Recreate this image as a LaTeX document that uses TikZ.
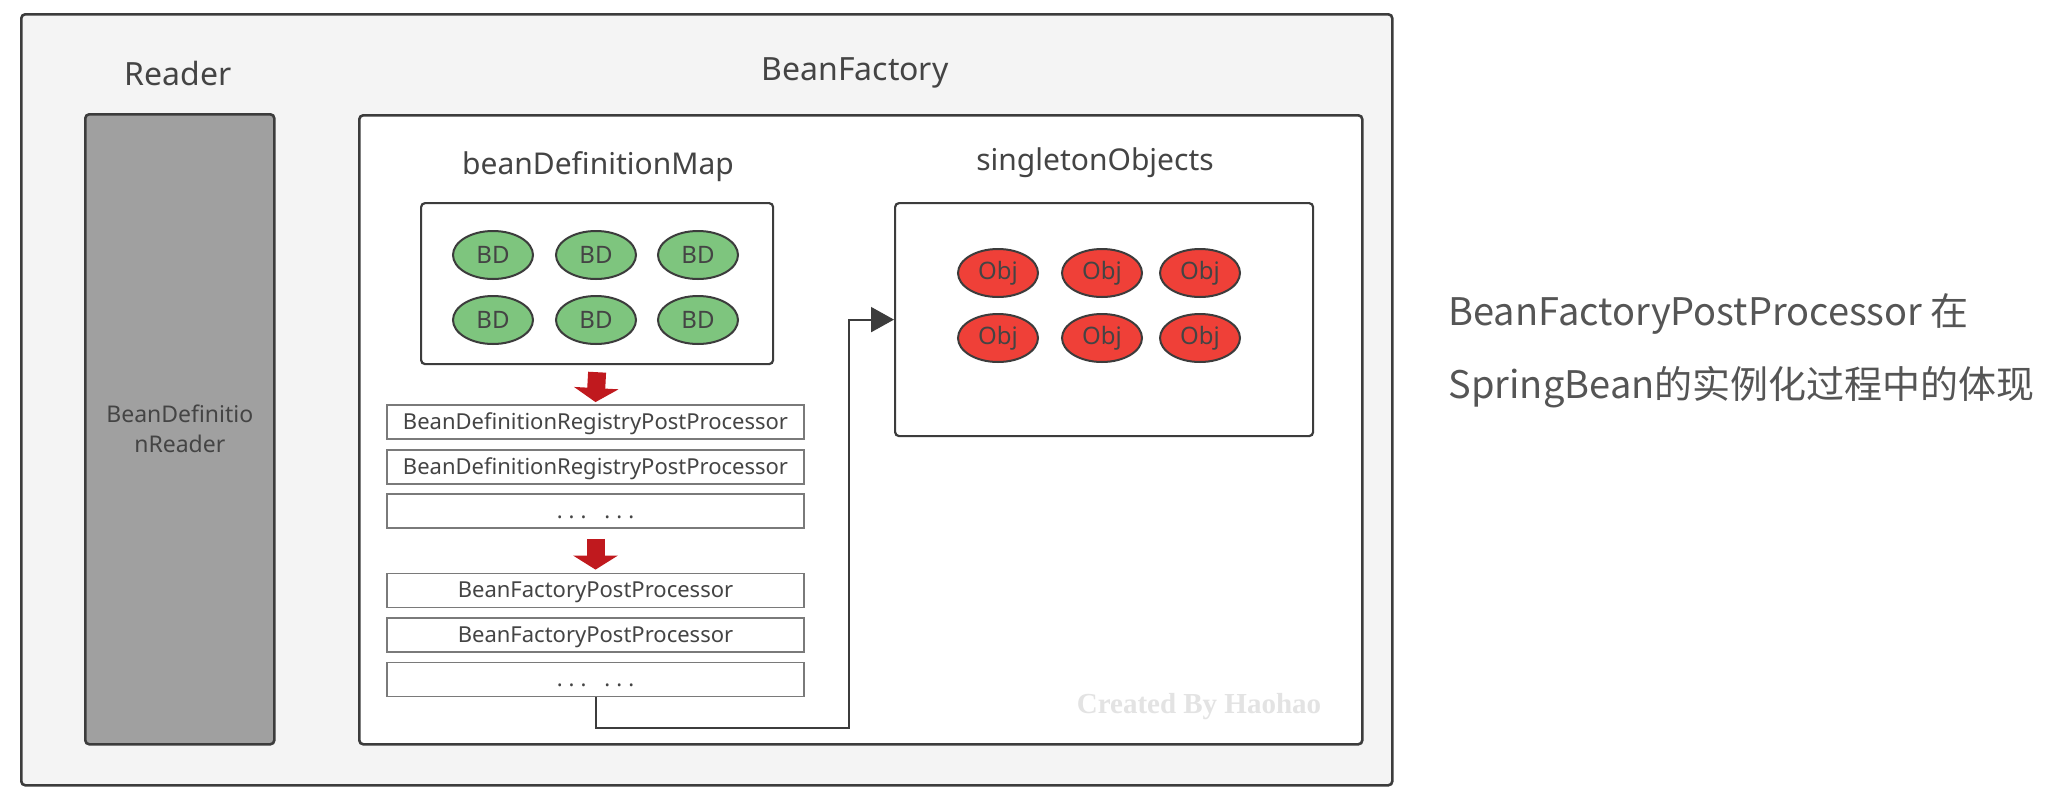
\documentclass[tikz,border=0pt]{standalone}
\usepackage{fontspec}
\setmainfont{Noto Sans}
\newfontfamily\cjk{Noto Sans CJK SC}
\newfontfamily\wmfont{Liberation Serif}
\usetikzlibrary{shapes.geometric,arrows.meta,calc}
\tikzset{>=Latex}

\definecolor{panelgray}{HTML}{F4F4F4}
\definecolor{readergray}{HTML}{A0A0A0}
\definecolor{framegray}{HTML}{3C3C3C}
\definecolor{procgray}{HTML}{7A7A7A}
\definecolor{textgray}{HTML}{444444}
\definecolor{notegray}{HTML}{555555}
\definecolor{bdgreen}{HTML}{7EC57E}
\definecolor{objred}{HTML}{EF4038}
\definecolor{arrowred}{HTML}{C0191E}

\tikzset{
  frame/.style={draw=framegray,line width=2.6pt,rounded corners=4pt,
    anchor=north west,inner sep=0pt},
  title/.style={text=textgray,font=\fontsize{32}{38}\selectfont},
  subtitle/.style={text=textgray,font=\fontsize{30}{36}\selectfont},
  bean/.style={ellipse,draw=framegray,line width=2pt,minimum width=80pt,
    minimum height=48pt,inner sep=0pt,text=textgray,
    font=\fontsize{24}{28}\selectfont},
  procbox/.style={draw=procgray,line width=1.8pt,fill=white,inner sep=0pt,
    minimum width=417pt,minimum height=34pt,text height=15pt,text depth=1pt,
    text=textgray,font=\fontsize{22}{26}\selectfont},
  redarrow/.style={arrowred,line width=18pt,
    -{Triangle[width=44pt,length=14pt]}},
  flow/.style={->,framegray,line width=2pt,
    -{Triangle[width=25pt,length=23pt]}}
}
\newcommand{\gapdots}{.\hspace{6pt}.\hspace{6pt}.\hspace{18pt}.\hspace{6pt}.\hspace{6pt}.}

\begin{document}
\begin{tikzpicture}[x=1pt,y=-1pt]
  \useasboundingbox (0,0) rectangle (2048,790);
  % containers
  \node[frame,fill=panelgray,minimum width=1371pt,minimum height=771pt] (outer) at (20,13) {};
  \node[frame,fill=readergray,minimum width=189pt,minimum height=630pt] (reader) at (84,113) {};
  \node[text=textgray,font=\fontsize{23}{30}\selectfont,align=center] (readertxt)
    at (reader.center) {BeanDefinitio\\nReader};
  \node[title] (readerlbl) at (178,73) {Reader};
  \node[frame,fill=white,minimum width=1003pt,minimum height=629pt] (factory) at (358,114) {};
  \node[title] (factorylbl) at (855,73) {BeanFactory};
  % beanDefinitionMap
  \node[subtitle] (bdmaplbl) at (598,167) {beanDefinitionMap};
  \node[frame,line width=2.2pt,fill=white,minimum width=352pt,minimum height=161pt] (bdmap) at (420,202) {};
  \foreach \X [count=\i] in {493,596,698} {%
    \node[bean,fill=bdgreen] (bd1\i) at (\X,255) {BD};
    \node[bean,fill=bdgreen] (bd2\i) at (\X,320) {BD};
  };
  % singletonObjects
  \node[subtitle] (objmaplbl) at (1095,163) {singletonObjects};
  \node[frame,line width=2.2pt,fill=white,minimum width=418pt,minimum height=233pt] (objmap) at (894,202) {};
  \foreach \X [count=\i] in {998,1102,1200} {%
    \node[bean,fill=objred] (obj1\i) at (\X,273) {Obj};
    \node[bean,fill=objred] (obj2\i) at (\X,338) {Obj};
  };
  % post processors
  \node[procbox] (reg1) at (595.5,422) {BeanDefinitionRegistryPostProcessor};
  \node[procbox] (reg2) at (595.5,467) {BeanDefinitionRegistryPostProcessor};
  \node[procbox] (reg3) at (595.5,511) {\gapdots};
  \node[procbox] (fac1) at (595.5,590.5) {BeanFactoryPostProcessor};
  \node[procbox] (fac2) at (595.5,635) {BeanFactoryPostProcessor};
  \node[procbox] (fac3) at (595.5,679.5) {\gapdots};
  % arrows
  \draw[redarrow] ([yshift=-7pt]bdmap.south) -- ([yshift=2pt]reg1.north);
  \draw[redarrow] ([yshift=-10pt]reg3.south) -- ([yshift=3pt]fac1.north);
  \draw[flow] (fac3.south) -- ++(0,31) -| ([xshift=-45pt]objmap.west) -- (objmap.west);
  \node[text=gray!22,font=\wmfont\bfseries\fontsize{29}{32}\selectfont] (mark) at (1199,707) {Created By Haohao};
  % note
  \node[anchor=west,text=notegray,font=\cjk\fontsize{38}{42}\selectfont] (note1) at (1445,314) {BeanFactoryPostProcessor 在};
  \node[anchor=west,text=notegray,font=\cjk\fontsize{38}{42}\selectfont] (note2) at (1445,387) {SpringBean的实例化过程中的体现};
\end{tikzpicture}
\end{document}
